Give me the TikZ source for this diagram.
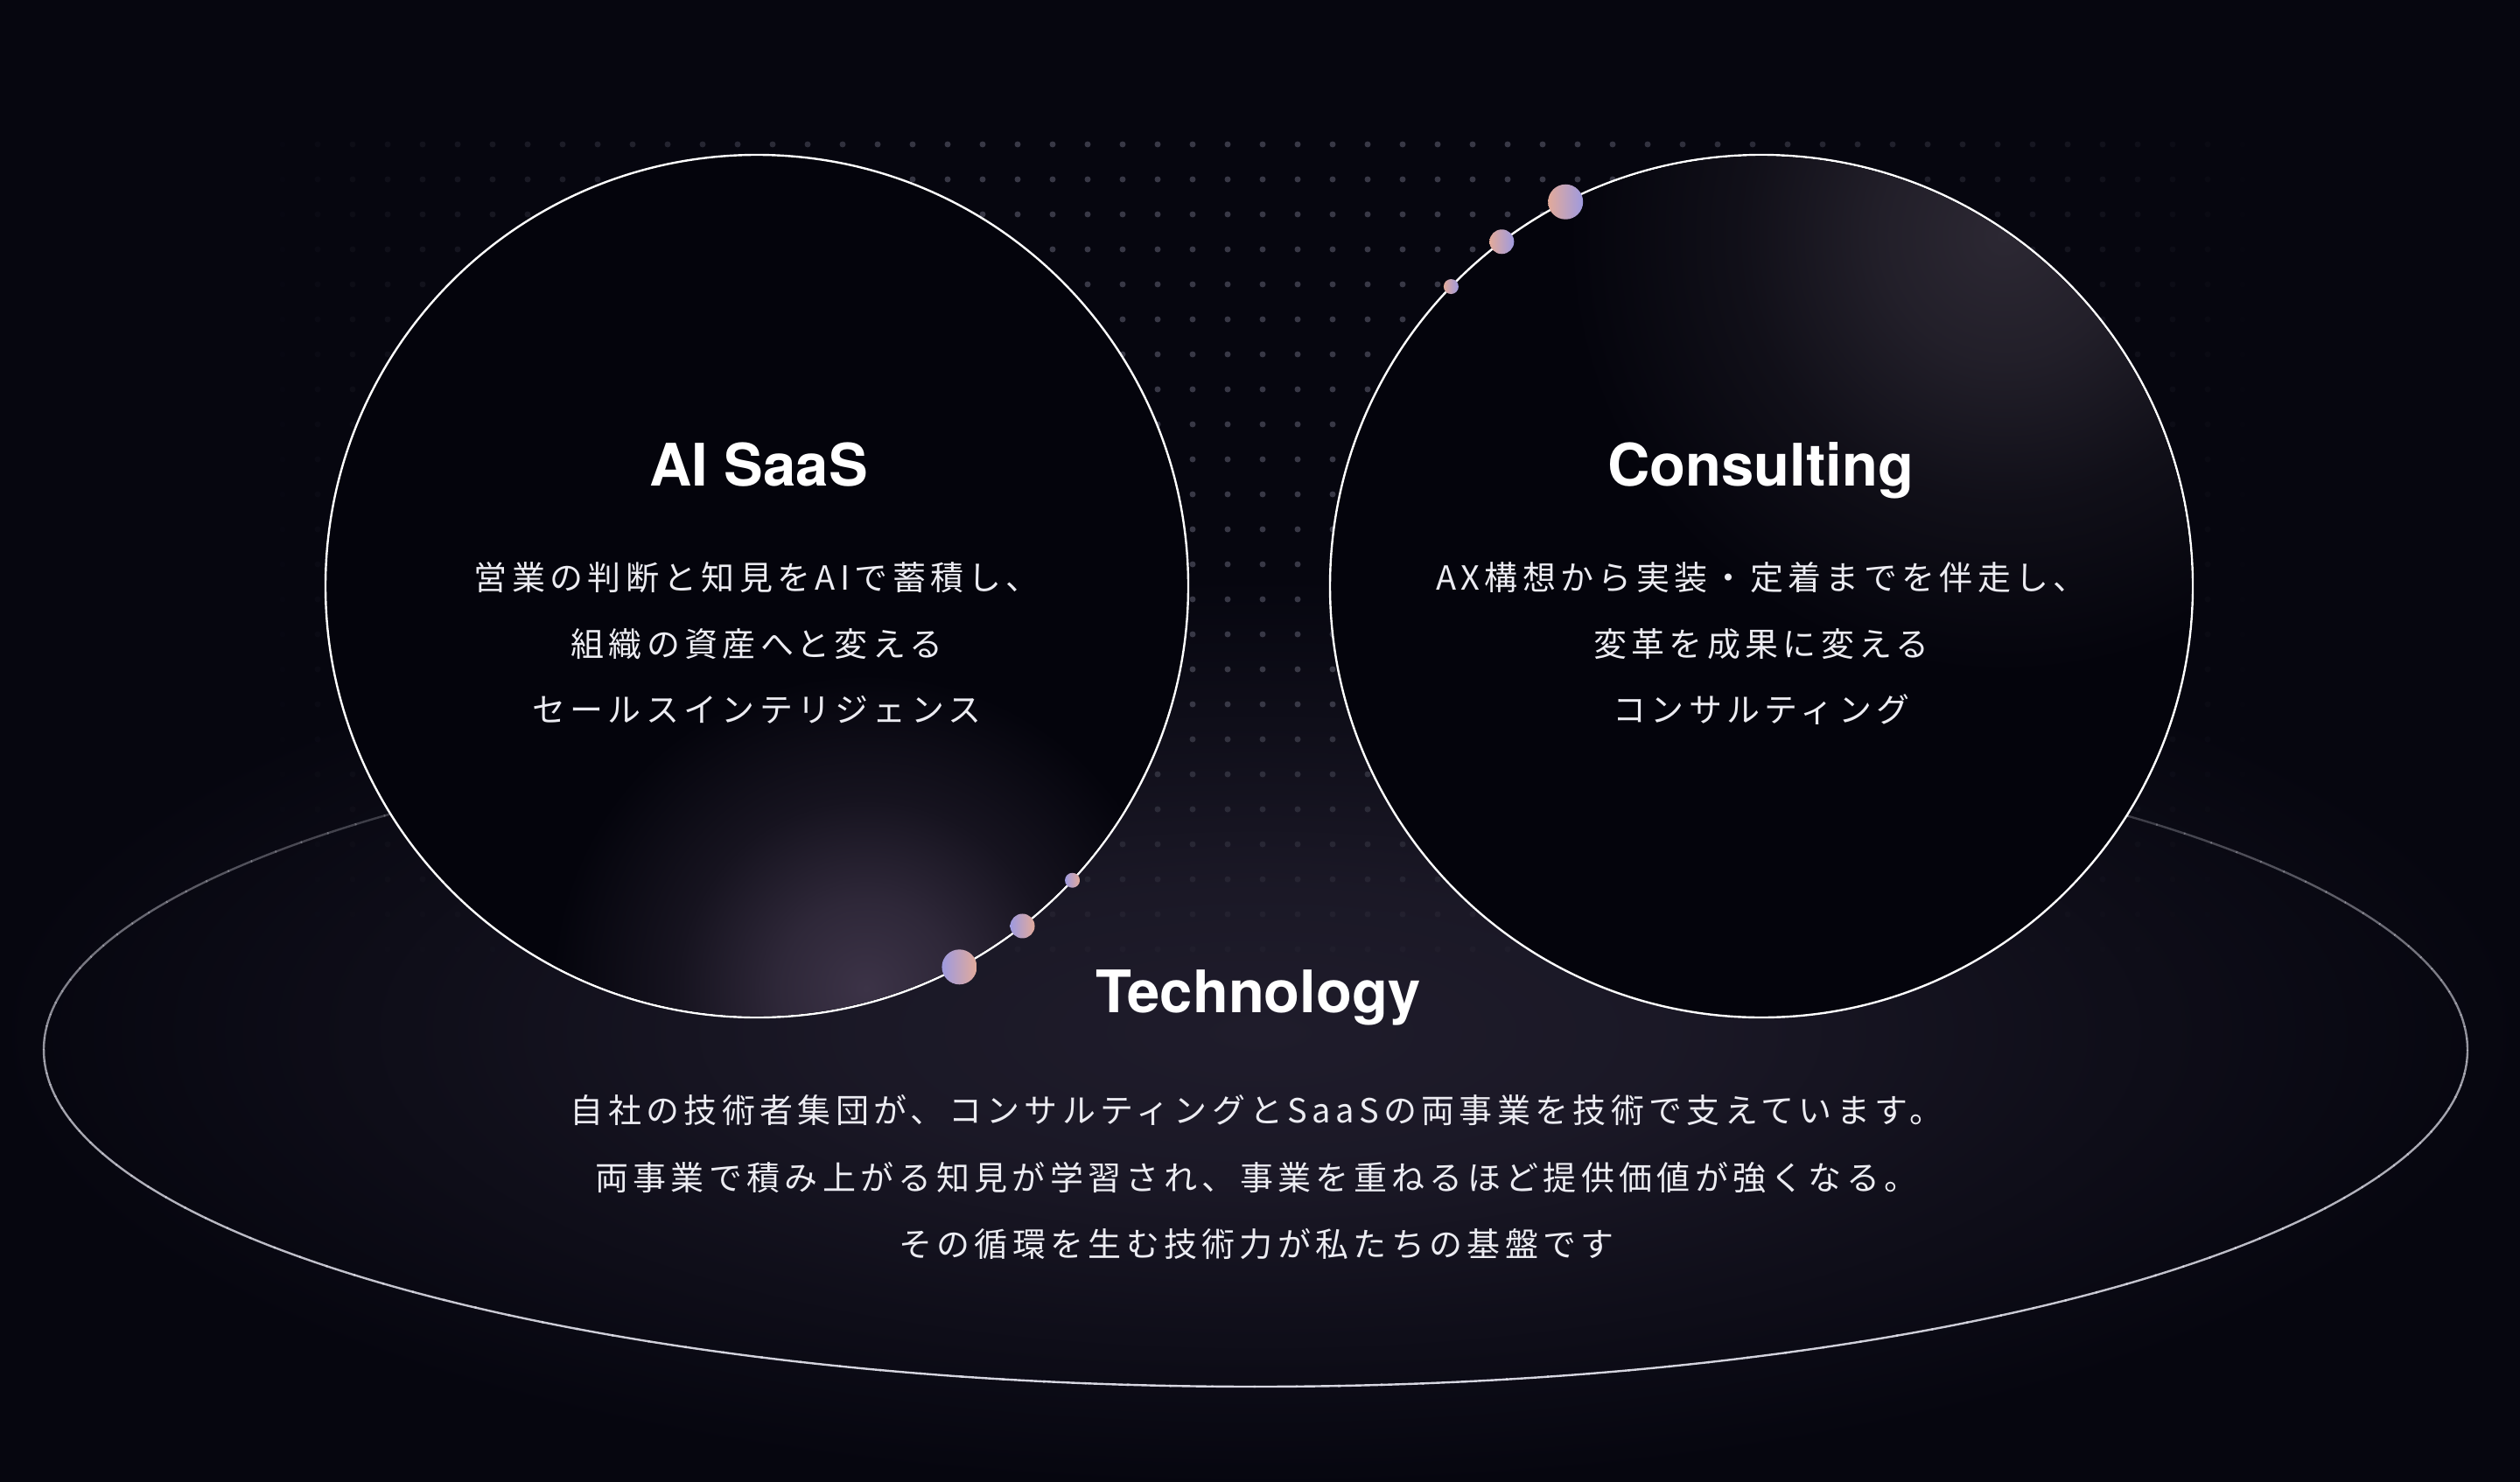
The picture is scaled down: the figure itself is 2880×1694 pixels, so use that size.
\documentclass[tikz,border=0pt]{standalone}
\usepackage{fontspec}
\newfontfamily\jpfont{Noto Sans CJK JP}[LetterSpace=14]
\newfontfamily\titlefont{TeX Gyre Heros}
\definecolor{bgc}{HTML}{06060F}
\definecolor{circfill}{HTML}{04040C}
\definecolor{dotc}{HTML}{3E3E4C}
\definecolor{ellglow}{HTML}{1F1C2B}
\definecolor{pinkglow}{HTML}{3C3347}
\definecolor{topglow}{HTML}{2C2833}
\definecolor{lav}{HTML}{9E9ADF}
\definecolor{peach}{HTML}{E2AA9A}
\definecolor{ellline}{HTML}{DCDCE6}
\definecolor{txt}{HTML}{ECECF2}
\pgfdeclareradialshading{baseglow}{\pgfpoint{0bp}{0bp}}{color(0bp)=(ellglow); color(8bp)=(ellglow!82!bgc); color(16bp)=(ellglow!40!bgc); color(25bp)=(bgc); color(50bp)=(bgc)}
\pgfdeclareradialshading{pinkshade}{\pgfpoint{0bp}{0bp}}{color(0bp)=(pinkglow); color(7bp)=(pinkglow!75!circfill); color(15bp)=(pinkglow!32!circfill); color(25bp)=(circfill); color(50bp)=(circfill)}
\pgfdeclareradialshading{topshade}{\pgfpoint{0bp}{0bp}}{color(0bp)=(topglow); color(7bp)=(topglow!75!circfill); color(15bp)=(topglow!32!circfill); color(25bp)=(circfill); color(50bp)=(circfill)}
\tikzset{
  ring/.style={circle, inner sep=0pt, outer sep=0pt, minimum size=986pt, fill=circfill, draw=white, line width=2.4pt},
  beadL/.style={circle, inner sep=0pt, outer sep=0pt, left color=lav, right color=peach, draw=none},
  beadR/.style={circle, inner sep=0pt, outer sep=0pt, left color=peach, right color=lav, draw=none},
  title/.style={anchor=base, inner sep=0pt, text=white, font=\titlefont\bfseries\fontsize{67}{80}\selectfont},
  body/.style={anchor=base, inner sep=0pt, text=txt, font=\jpfont\fontsize{38}{46}\selectfont},
}
\begin{document}
\begin{tikzpicture}[x=1pt,y=-1pt]
\useasboundingbox (0,0) rectangle (2880,1694);
\fill[bgc] (0,0) rectangle (2880,1694);
% big glow of the base
\shade[shading=baseglow] (1440,1180) ellipse[x radius=1450, y radius=520];
% dot grid
\foreach \i in {0,...,64}{
  \foreach \j in {0,...,24}{
    \pgfmathsetmacro\xx{163+40*\i}
    \pgfmathsetmacro\yy{165+40*\j}
    \pgfmathsetmacro\op{0.9*max(0,min(1,(1150-abs(\xx-1440))/800))*max(0,min(1,(1130-\yy)/330))}
    \fill[dotc, opacity=\op] (\xx,\yy) circle[radius=3.5];
  }
}
% base ellipse, drawn in short arcs that fade towards the top
\coordinate (techc) at (1435,1200);
\foreach \t in {0,2,...,358}{
  \pgfmathsetmacro\s{sin(\t+1)}
  \pgfmathsetmacro\op{\s>=0 ? 0.68+0.3*\s : 0.68*max(0.0001,1+\s/0.95)^0.8}
  \draw[ellline, line width=2.4pt, opacity=\op] (techc) ++(\t:1385 and 385) arc[start angle=\t, end angle=\t+2.1, x radius=1385, y radius=385];
}
% circles
\node[ring] (saas) at (865,670) {};
\node[ring] (cons) at (2013,670) {};
\begin{scope}
  \clip (saas.center) circle[radius=491.5];
  \shade[shading=pinkshade] (990,1130) circle[radius=360];
\end{scope}
\begin{scope}
  \clip (cons.center) circle[radius=491.5];
  \shade[shading=topshade] (2290,270) circle[radius=500];
\end{scope}
% beads
\node[beadL, minimum size=40pt] (sb1) at (saas.-62.4) {};
\node[beadL, minimum size=28pt] (sb2) at (saas.-52.1) {};
\node[beadL, minimum size=17pt] (sb3) at (saas.-43.9) {};
\node[beadR, minimum size=40pt] (cb1) at (cons.117.6) {};
\node[beadR, minimum size=28pt] (cb2) at (cons.127.9) {};
\node[beadR, minimum size=17pt] (cb3) at (cons.136.1) {};
% texts
\node[title] (saasT) at (867,555) {AI SaaS};
\node[body] (saas1) at (865,674) {営業の判断と知見をAIで蓄積し、};
\node[body] (saas2) at (865,750) {組織の資産へと変える};
\node[body] (saas3) at (865,825) {セールスインテリジェンス};
\node[title] (consT) at (2012,555) {Consulting};
\node[body] (cons1) at (2013,674) {AX構想から実装・定着までを伴走し、};
\node[body] (cons2) at (2013,750) {変革を成果に変える};
\node[body] (cons3) at (2013,825) {コンサルティング};
\node[title] (techT) at (1438,1157) {Technology};
\node[body] (tech1) at (1436,1283) {自社の技術者集団が、コンサルティングとSaaSの両事業を技術で支えています。};
\node[body] (tech2) at (1436,1360) {両事業で積み上がる知見が学習され、事業を重ねるほど提供価値が強くなる。};
\node[body] (tech3) at (1436,1436) {その循環を生む技術力が私たちの基盤です};
\end{tikzpicture}
\end{document}
